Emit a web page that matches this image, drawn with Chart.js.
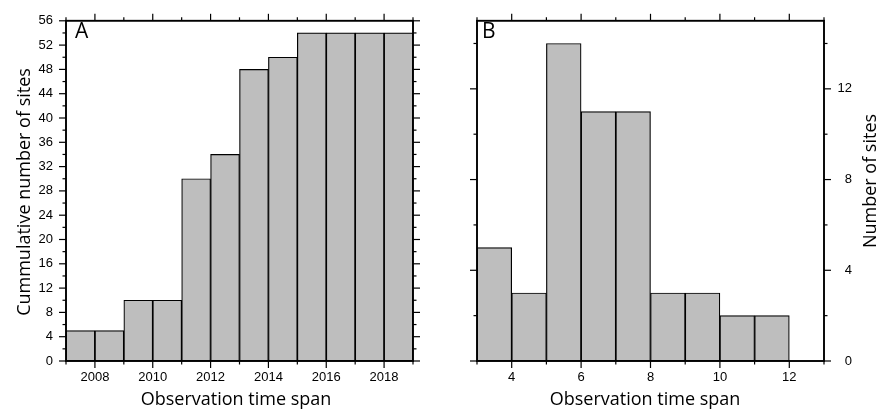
<!DOCTYPE html>
<html><head><meta charset="utf-8">
<script src="https://cdn.jsdelivr.net/npm/chart.js@4"></script>
<style>
html,body{margin:0;padding:0;background:#fff;}
#wrap{position:relative;width:879px;height:411px;background:#fff;}
#ca{position:absolute;left:0;top:0;}
#cb{position:absolute;left:440px;top:0;}
</style></head><body>
<div id="wrap"><canvas id="ca" width="440" height="411"></canvas><canvas id="cb" width="439" height="411"></canvas></div>
<script>
// ---- data ----
const binStartsA = [2007,2008,2009,2010,2011,2012,2013,2014,2015,2016,2017,2018];
const countsA    = [5,5,10,10,30,34,48,50,54,54,54,54];
const binStartsB = [3,4,5,6,7,8,9,10,11,12];
const countsB    = [5,3,14,11,11,3,3,2,2,0];
const xRangeA = [2007, 2019];
const yRangeA = [0, 56];
const xRangeB = [3, 13];
const yRangeB = [0, 15];
const titleA_y = 'Cummulative number of sites';
const titleB_y = 'Number of sites';
const titleX = 'Observation time span';
const panelA = 'A', panelB = 'B';

Chart.defaults.font.family = "'Liberation Sans', Arial, Helvetica, sans-serif";
const TICKFONT = {family: "'Liberation Sans', Arial, Helvetica, sans-serif", size: 13};
const TITLEFONT = "18px 'Open Sans', sans-serif";
const LETTERFONT = "21px 'Open Sans', sans-serif";

const framePlugin = {
  id: 'frame',
  afterDraw(chart, args, opts) {
    const ctx = chart.ctx, a = chart.chartArea;
    ctx.save();
    ctx.strokeStyle = '#000';
    ctx.lineWidth = 1.2;
    const isMult = (v, m) => Math.abs(v / m - Math.round(v / m)) < 1e-6;
    for (const id of Object.keys(chart.scales)) {
      const s = chart.scales[id];
      const horiz = s.isHorizontal();
      const minor = horiz ? opts.xMinor : opts.yMinor;
      const major = horiz ? opts.xMajor : opts.yMajor;
      for (const t of s.ticks) {
        const v = t.value;
        if (!isMult(v, minor)) continue;
        const len = isMult(v, major) ? 7 : 3.5;
        const p = s.getPixelForValue(v);
        ctx.beginPath();
        if (s.position === 'left') { ctx.moveTo(a.left, p); ctx.lineTo(a.left - len, p); }
        else if (s.position === 'right') { ctx.moveTo(a.right, p); ctx.lineTo(a.right + len, p); }
        else if (s.position === 'bottom') { ctx.moveTo(p, a.bottom); ctx.lineTo(p, a.bottom + len); }
        else { ctx.moveTo(p, a.top); ctx.lineTo(p, a.top - len); }
        ctx.stroke();
      }
    }
    ctx.lineWidth = 1.9;
    ctx.strokeRect(a.left, a.top, a.right - a.left, a.bottom - a.top);
    ctx.fillStyle = '#000';
    for (const t of opts.texts) {
      ctx.save();
      ctx.font = t.font;
      ctx.textAlign = t.align || 'left';
      ctx.textBaseline = 'alphabetic';
      ctx.translate(t.x, t.y);
      if (t.rot) ctx.rotate(t.rot);
      ctx.fillText(t.text, 0, 0);
      ctx.restore();
    }
    ctx.restore();
  }
};

function makeChart(canvas, starts, counts, xr, yr, xMinor, xMajor, yMinor, yMajor, sizes, rightLabels, texts) {
  const data = starts.map((s, i) => ({x: s + 0.5, y: counts[i]}));
  const xBase = {
    type: 'linear', min: xr[0], max: xr[1], offset: false,
    grid: {display: false, offset: false, drawTicks: false},
    border: {display: false}
  };
  const yBase = {
    type: 'linear', min: yr[0], max: yr[1],
    grid: {display: false, drawTicks: false},
    border: {display: false}
  };
  return new Chart(canvas, {
    type: 'bar',
    data: {datasets: [{
      data: data,
      backgroundColor: '#bebebe',
      borderColor: '#000',
      borderWidth: 1.2,
      borderSkipped: false,
      barPercentage: 1.0,
      categoryPercentage: 1.0
    }]},
    options: {
      responsive: false,
      animation: false,
      layout: {padding: {left: 0, top: 0, bottom: 0, right: sizes.padRight || 0}},
      plugins: {
        legend: {display: false},
        tooltip: {enabled: false},
        frame: {xMinor, xMajor, yMinor, yMajor, texts}
      },
      scales: {
        x: Object.assign({}, xBase, {
          position: 'bottom',
          ticks: {stepSize: xMinor, autoSkip: false, maxRotation: 0, padding: 9, color: '#000', font: TICKFONT,
                  callback: v => (Math.abs(v % xMajor) < 1e-6 ? String(v) : '')},
          afterFit: s => { s.height = sizes.bottom; }
        }),
        x2: Object.assign({}, xBase, {
          position: 'top',
          ticks: {display: false, stepSize: xMinor, autoSkip: false},
          afterFit: s => { s.height = sizes.top; }
        }),
        y: Object.assign({}, yBase, {
          position: 'left',
          ticks: {display: !rightLabels, stepSize: yMinor, autoSkip: false, padding: 13, color: '#000', font: TICKFONT,
                  callback: v => (Math.abs(v % yMajor) < 1e-6 ? String(v) : '')},
          afterFit: s => { s.width = sizes.left; }
        }),
        y2: Object.assign({}, yBase, {
          position: 'right',
          ticks: {display: rightLabels, stepSize: yMinor, autoSkip: false, padding: 13, color: '#000', font: TICKFONT,
                  crossAlign: 'far',
                  callback: v => (Math.abs(v % yMajor) < 1e-6 ? String(v) : '')},
          afterFit: s => { s.width = sizes.right; }
        })
      }
    },
    plugins: [framePlugin]
  });
}

makeChart(document.getElementById('ca'), binStartsA, countsA, xRangeA, yRangeA, 1, 2, 2, 4,
  {left: 66, right: 27, top: 14, bottom: 50}, false,
  [
    {text: titleA_y, x: 30, y: 192, rot: -Math.PI / 2, align: 'center', font: TITLEFONT},
    {text: titleX, x: 236, y: 405, align: 'center', font: TITLEFONT},
    {text: panelA, x: 75, y: 38, align: 'left', font: LETTERFONT}
  ]);

makeChart(document.getElementById('cb'), binStartsB, countsB, xRangeB, yRangeB, 1, 2, 2, 4,
  {left: 37, right: 28, padRight: 27, top: 14, bottom: 50}, true,
  [
    {text: titleB_y, x: 436, y: 181, rot: -Math.PI / 2, align: 'center', font: TITLEFONT},
    {text: titleX, x: 205, y: 405, align: 'center', font: TITLEFONT},
    {text: panelB, x: 42, y: 38, align: 'left', font: LETTERFONT}
  ]);
</script>
</body></html>
